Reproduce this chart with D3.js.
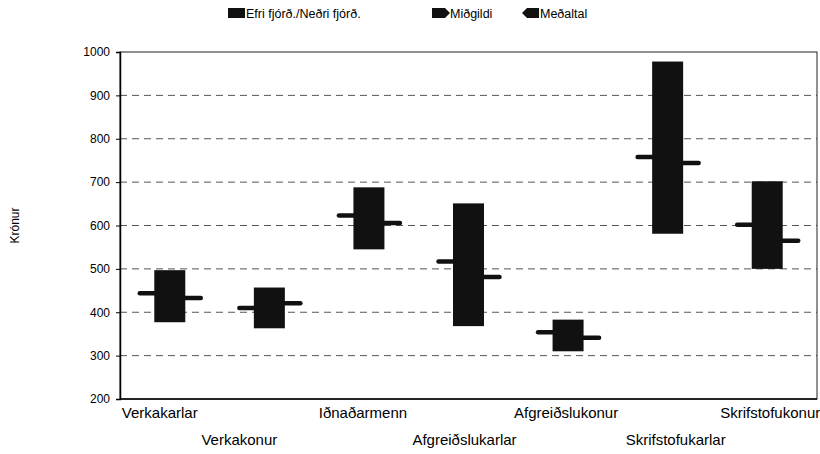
<!DOCTYPE html>
<html>
<head>
<meta charset="utf-8">
<script src="https://cdn.jsdelivr.net/npm/d3@7"></script>
<style>
	body { margin: 0; background: #fff; }
	svg { font-family: "Liberation Sans", Arial, sans-serif; }
</style>
</head>
<body>
<div id="chart"></div>
<script>
//Dados
var categories = ["Verkakarlar", "Verkakonur", "Iðnaðarmenn", "Afgreiðslukarlar", "Afgreiðslukonur", "Skrifstofukarlar", "Skrifstofukonur"];
var upperQuartile = [497, 457, 688, 651, 383, 978, 702];
var lowerQuartile = [377, 363, 545, 368, 310, 581, 500];
var median = [444, 410, 623, 517, 354, 758, 602];
var mean = [433, 421, 606, 481, 341, 744, 565];
var yTicks = [200, 300, 400, 500, 600, 700, 800, 900, 1000];
var legendLabels = ["Efri fjórð./Neðri fjórð.", "Miðgildi", "Meðaltal"];

(function () {
	'use strict';
	var W = 820, H = 454;
	var margin = {top: 52, right: 3, bottom: 55, left: 120};
	var width = W - margin.left - margin.right;
	var height = H - margin.top - margin.bottom;
	//Deslocamento horizontal dos rótulos (layout do original)
	var labelShift = [-10, -30, -6, -4, -2, 8, 3];

	var svg = d3.select("#chart").append("svg")
		.attr("width", W)
		.attr("height", H);
	var g = svg.append("g")
		.attr("transform", "translate(" + margin.left + "," + margin.top + ")");

	//Escalas
	var x = d3.scaleBand().domain(categories).range([0, width]);
	var y = d3.scaleLinear().domain([200, 1000]).range([height, 0]);
	var data = categories.map(function (c, i) {
		return {cat: c, hi: upperQuartile[i], lo: lowerQuartile[i], med: median[i], mean: mean[i], i: i};
	});
	var cx = function (d) { return x(d.cat) + x.bandwidth() / 2; };

	//Linhas de grade
	g.selectAll(".grid").data(yTicks.slice(1, -1)).enter().append("line")
		.attr("x1", 0).attr("x2", width)
		.attr("y1", function (d) { return y(d); })
		.attr("y2", function (d) { return y(d); })
		.attr("stroke", "#555")
		.attr("stroke-width", 1)
		.attr("stroke-dasharray", "7,5");

	//Borda da área
	g.append("rect")
		.attr("width", width).attr("height", height)
		.attr("fill", "none")
		.attr("stroke", "#222").attr("stroke-width", 1);

	//Eixo Y
	var yAxis = g.append("g")
		.call(d3.axisLeft(y).tickValues(yTicks).tickFormat(d3.format("d")).tickSize(4).tickPadding(6));
	yAxis.select(".domain").attr("stroke", "#000").attr("stroke-width", 1.5);
	yAxis.selectAll("text").attr("font-size", 12).attr("fill", "#000")
		.attr("font-family", "Liberation Sans, Arial, sans-serif");

	g.append("line")
		.attr("x1", 0).attr("x2", width)
		.attr("y1", height).attr("y2", height)
		.attr("stroke", "#000").attr("stroke-width", 1.5);

	//Rótulos das categorias (alternados)
	g.selectAll(".cat-label").data(data).enter().append("text")
		.attr("x", function (d) { return cx(d) + labelShift[d.i]; })
		.attr("y", function (d) { return height + (d.i % 2 === 0 ? 19 : 46); })
		.attr("text-anchor", "middle")
		.attr("font-size", 15)
		.text(function (d) { return d.cat; });

	var half = 15.5;
	//Mediana (à esquerda)
	g.selectAll(".med").data(data).enter().append("line")
		.attr("x1", function (d) { return cx(d) - 30; })
		.attr("x2", cx)
		.attr("y1", function (d) { return y(d.med); })
		.attr("y2", function (d) { return y(d.med); })
		.attr("stroke", "#111").attr("stroke-width", 4.5).attr("stroke-linecap", "round");
	//Média (à direita)
	g.selectAll(".mean").data(data).enter().append("line")
		.attr("x1", cx)
		.attr("x2", function (d) { return cx(d) + 31; })
		.attr("y1", function (d) { return y(d.mean); })
		.attr("y2", function (d) { return y(d.mean); })
		.attr("stroke", "#111").attr("stroke-width", 4.5).attr("stroke-linecap", "round");
	//Caixas
	g.selectAll(".box").data(data).enter().append("rect")
		.attr("x", function (d) { return cx(d) - half; })
		.attr("width", half * 2)
		.attr("y", function (d) { return y(d.hi); })
		.attr("height", function (d) { return y(d.lo) - y(d.hi); })
		.attr("fill", "#111");

	//Título do eixo Y
	svg.append("text")
		.attr("transform", "translate(19," + (margin.top + height / 2) + ") rotate(-90)")
		.attr("text-anchor", "middle")
		.attr("font-size", 12)
		.text("Krónur");

	//Legenda
	var leg = svg.append("g").attr("font-size", 12.5);
	var legX = [228, 432, 522];
	leg.append("rect").attr("x", legX[0]).attr("y", 8).attr("width", 17).attr("height", 10).attr("fill", "#111");
	leg.append("path")
		.attr("d", "M" + legX[1] + ",8 h13 l5,5 l-5,5 h-13 z").attr("fill", "#111");
	leg.append("path")
		.attr("d", "M" + (legX[2] + 17) + ",8 h-12 l-5,5 l5,5 h12 z").attr("fill", "#111");
	leg.selectAll(".leg-text").data(legendLabels).enter().append("text")
		.attr("x", function (d, i) { return legX[i] + 18; })
		.attr("y", 18)
		.text(function (d) { return d; });
}());
</script>
</body>
</html>
